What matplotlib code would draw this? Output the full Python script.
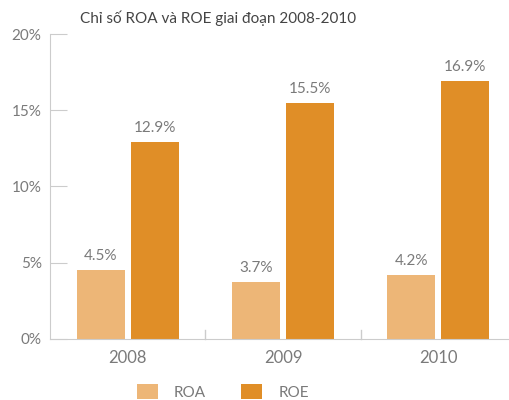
import matplotlib.pyplot as plt
import numpy as np

plt.rcParams['font.family'] = ['Lato', 'DejaVu Sans']

years = ['2008', '2009', '2010']
roa = [4.5, 3.7, 4.2]
roe = [12.9, 15.5, 16.9]
yticks = [0, 5, 10, 15, 20]

c_roa = '#EDB677'
c_roe = '#E08E27'
grey = '#7a7a7a'
line = '#cccccc'

fig = plt.figure(figsize=(5.09, 4.0), dpi=100)
ax = fig.add_axes([50 / 509, 61.3 / 400, 466 / 509, 304.7 / 400])

x = np.arange(len(years))
w = 0.31
off = 0.174
b1 = ax.bar(x - off, roa, w, color=c_roa, label='ROA')
b2 = ax.bar(x + off, roe, w, color=c_roe, label='ROE')

for bars, vals in ((b1, roa), (b2, roe)):
    for b, v in zip(bars, vals):
        ax.text(b.get_x() + b.get_width() / 2, v + 0.45, f'{v:.1f}%',
                ha='center', va='bottom', fontsize=11, color=grey)

ax.set_xlim(-0.5, 2.5)
ax.set_ylim(0, 20)
ax.set_yticks(yticks)
ax.set_yticklabels([f'{t}%' for t in yticks], fontsize=11, color=grey)
ax.tick_params(axis='y', direction='in', length=12, color=line, pad=6)

# category labels + separator ticks
ax.set_xticks(x)
ax.set_xticklabels(years, fontsize=12, color=grey)
ax.tick_params(axis='x', length=0, pad=8)
for s in (0.5, 1.5):
    ax.plot([s, s], [0, 0.55], color=line, lw=1, clip_on=False)

for sp in ('top', 'right'):
    ax.spines[sp].set_visible(False)
for sp in ('left', 'bottom'):
    ax.spines[sp].set_color(line)

fig.text(80 / 509, 1 - 18 / 400, 'Chỉ số ROA và ROE giai đoạn 2008-2010',
         fontsize=11, color='#444444', va='center', ha='left')

fig.legend(handles=[b1, b2], loc='center left',
           bbox_to_anchor=(137 / 509, 1 - 392 / 400),
           ncol=2, frameon=False, fontsize=11, labelcolor=grey,
           handlelength=1.37, handleheight=1.1, columnspacing=2.3,
           handletextpad=1.05, borderpad=0, borderaxespad=0)

fig.savefig('out.png', dpi=100)
